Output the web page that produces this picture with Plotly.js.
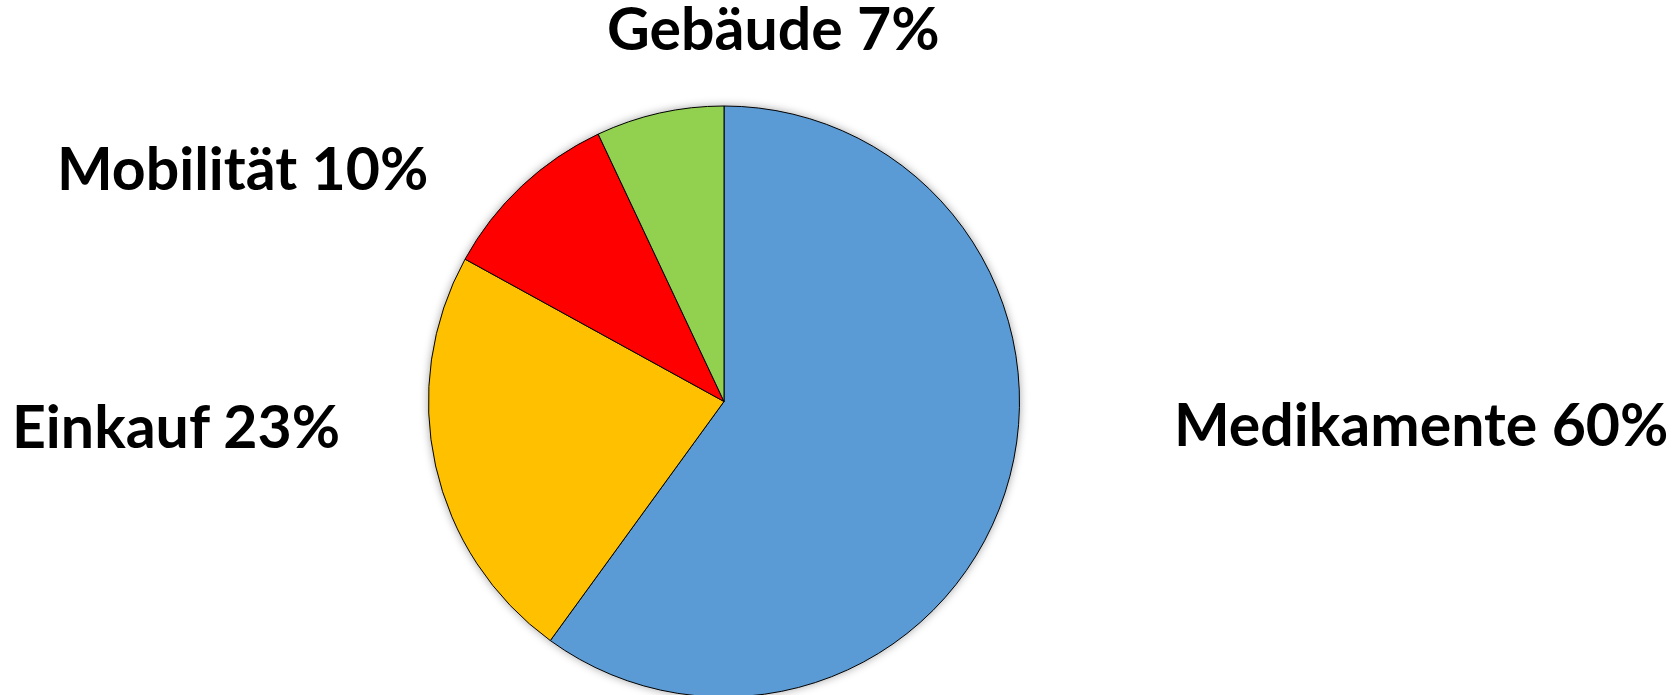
<!DOCTYPE html>
<html>
<head>
<meta charset="utf-8">
<script src="https://cdn.plot.ly/plotly-3.0.1.min.js"></script>
<style>
html, body { margin: 0; padding: 0; background: #fff; overflow: hidden; }
#wrap { width: 1676px; height: 695px; overflow: hidden; }
#chart { width: 1676px; height: 697px; }
.pielayer { filter: drop-shadow(0px 0px 4px rgba(0,0,0,0.35)); }
</style>
</head>
<body>
<div id="wrap"><div id="chart"></div></div>
<script>
const categories = ["Medikamente", "Einkauf", "Mobilität", "Gebäude"];
const values = [60, 23, 10, 7];
const colors = ["#5B9BD5", "#FFC000", "#FF0000", "#92D050"];

// label placement (pixels in the canvas)
const labelPx = [
  [1421, 423],
  [176, 425],
  [242, 167],
  [773, 28]
];
const W = 1676, H = 697;

const annotations = categories.map((c, i) => ({
  text: c + " " + values[i] + "%",
  xref: "paper", yref: "paper",
  x: labelPx[i][0] / W, y: 1 - labelPx[i][1] / H,
  xanchor: "center", yanchor: "middle",
  showarrow: false,
  font: { family: "Lato", size: 59, weight: "bold", color: "#000" }
}));

const trace = {
  type: "pie",
  labels: categories,
  values: values,
  sort: false,
  direction: "clockwise",
  rotation: 0,
  textinfo: "none",
  hoverinfo: "label+percent",
  marker: { colors: colors, line: { color: "#000", width: 1 } },
  domain: { x: [428.5 / W, 1019.5 / W], y: [0, 591 / H] },
  showlegend: false
};

const layout = {
  width: W, height: H,
  margin: { l: 0, r: 0, t: 0, b: 0 },
  paper_bgcolor: "#fff",
  plot_bgcolor: "#fff",
  showlegend: false,
  annotations: annotations
};

Plotly.newPlot("chart", [trace], layout, { displayModeBar: false, staticPlot: true });
</script>
</body>
</html>
